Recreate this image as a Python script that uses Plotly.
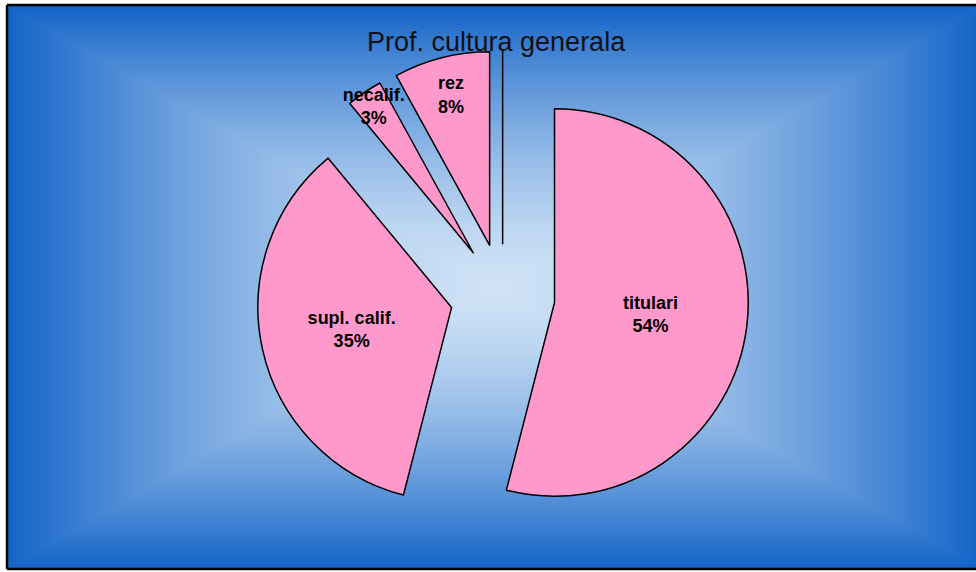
import plotly.graph_objects as go

# data
categories = ["titulari", "supl. calif.", "necalif.", "rez", ""]
values = [54, 35, 3, 8, 0]
title_text = "Prof. cultura generala"

W, H = 976, 572
fig = go.Figure()

# background box gradient (decoration)
edge = (21, 101, 200)
center = (207, 226, 246)
fx0, fx1, fy0, fy1 = 8, 980, 6, 568
cx, cy = (fx0 + fx1) / 2, (fy0 + fy1) / 2
hw, hh = (fx1 - fx0) / 2, (fy1 - fy0) / 2
shapes = []
N = 90
for i in range(N):
    lvl = 1 - i / N
    g = lvl ** 1.5
    col = tuple(round(center[k] + (edge[k] - center[k]) * g) for k in range(3))
    x0, x1 = cx - hw * lvl, cx + hw * lvl
    y0, y1 = cy - hh * lvl, cy + hh * lvl
    shapes.append(dict(type="rect", xref="paper", yref="paper",
                       x0=x0 / W, x1=x1 / W, y0=1 - y1 / H, y1=1 - y0 / H,
                       fillcolor="rgb(%d,%d,%d)" % col, line=dict(width=0), layer="below"))
# frame: left, top, bottom edges
fl, ft, fb = 7 / W, 1 - 5 / H, 1 - 569 / H
for (a, b, c, d) in [(fl, fb, fl, ft), (fl, ft, 1.0, ft), (fl, fb, 1.0, fb)]:
    shapes.append(dict(type="line", xref="paper", yref="paper", x0=a, y0=b, x1=c, y1=d,
                       line=dict(color="black", width=2.5), layer="below"))

templates = ["%{label}<br>%{percent:.0%}" if v > 0 else "" for v in values]

fig.add_trace(go.Pie(
    labels=categories, values=values, sort=False, direction="clockwise", rotation=0,
    pull=[0.27] * len(values),
    marker=dict(colors=["#ff99cc"] * len(values), line=dict(color="black", width=1.5)),
    texttemplate=templates, textposition="inside", insidetextorientation="horizontal",
    textfont=dict(family="Liberation Sans", size=18, color="black", weight="bold"),
    showlegend=False, hoverinfo="label+percent",
    domain=dict(x=[0.03, 1.0], y=[1 - 542 / H, 1 - 50 / H]),
))

fig.update_layout(
    width=W, height=H, margin=dict(l=0, r=0, t=0, b=0),
    paper_bgcolor="white", plot_bgcolor="rgba(0,0,0,0)",
    shapes=shapes,
    uniformtext=dict(minsize=18, mode="show"),
    annotations=[dict(text=title_text, x=0.509, y=1 - 42 / H, xref="paper", yref="paper",
                      xanchor="center", yanchor="middle", showarrow=False,
                      font=dict(family="Liberation Sans", size=27, color="#111"))],
)
fig.write_html("out.html", config={"displayModeBar": False},
               post_script="document.body.style.margin='0';document.body.style.overflow='hidden';")
